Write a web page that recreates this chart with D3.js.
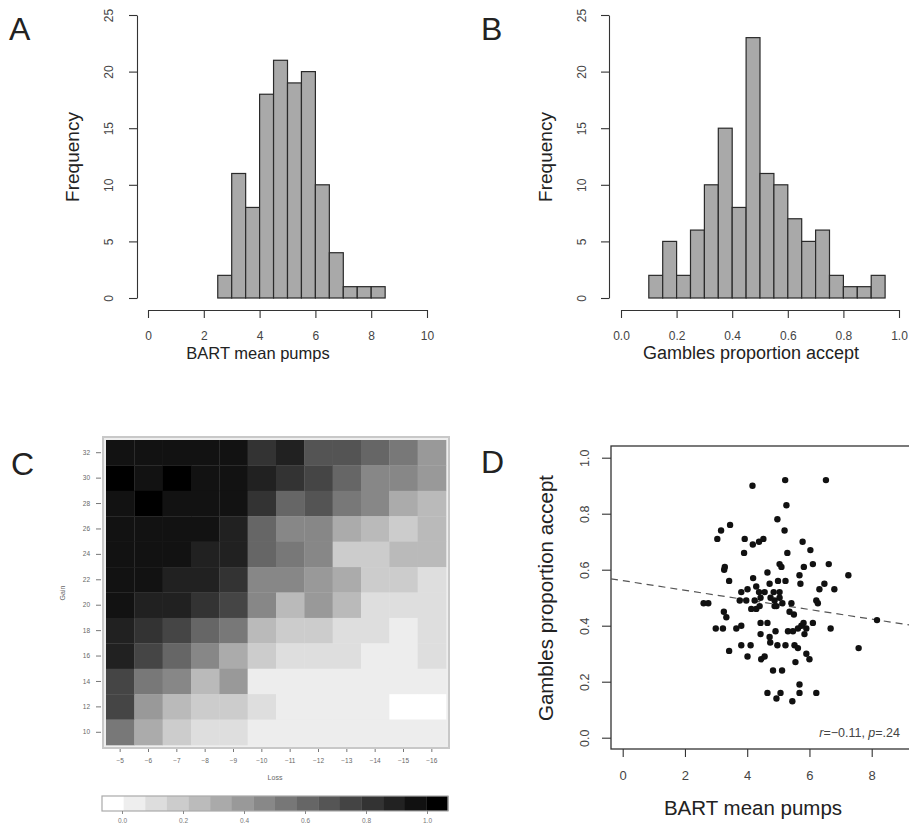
<!DOCTYPE html>
<html><head><meta charset="utf-8">
<script src="https://cdn.jsdelivr.net/npm/d3@7"></script>
<style>
body{margin:0;background:#fff}
svg{display:block;font-family:"Liberation Sans",Arial,Helvetica,sans-serif}
</style>
</head><body>
<svg id="chart" width="909" height="825"></svg>
<script>
// ---------------- DATA ----------------
const bartBinStarts = [2.5,3.0,3.5,4.0,4.5,5.0,5.5,6.0,6.5,7.0,7.5,8.0];
const bartCounts    = [2,11,8,18,21,19,20,10,4,1,1,1];
const bartBinWidth  = 0.5;
const bartTicks     = [0,2,4,6,8,10];

const gambleBinStarts = [0.10,0.15,0.20,0.25,0.30,0.35,0.40,0.45,0.50,0.55,0.60,0.65,0.70,0.75,0.80,0.85,0.90];
const gambleCounts    = [2,5,2,6,10,15,8,23,11,10,7,5,6,2,1,1,2];
const gambleBinWidth  = 0.05;
const gambleTicks     = [0,0.2,0.4,0.6,0.8,1.0];

const freqTicks = [0,5,10,15,20,25];

const gainLevels = [32,30,28,26,24,22,20,18,16,14,12,10];
const lossLevels = [-5,-6,-7,-8,-9,-10,-11,-12,-13,-14,-15,-16];
// proportion of gambles accepted, rows = gain (top 32 -> bottom 10), cols = loss (-5 -> -16)
const acceptGrid = [
  [0.93,0.93,0.93,0.93,0.93,0.80,0.87,0.67,0.67,0.60,0.53,0.40],
  [1.00,0.93,1.00,0.93,0.93,0.87,0.80,0.73,0.60,0.47,0.47,0.40],
  [0.93,1.00,0.93,0.93,0.93,0.80,0.60,0.67,0.53,0.47,0.33,0.27],
  [0.93,0.93,0.93,0.93,0.87,0.60,0.47,0.47,0.33,0.27,0.20,0.27],
  [0.93,0.93,0.93,0.87,0.87,0.60,0.53,0.47,0.20,0.20,0.27,0.27],
  [0.93,0.93,0.87,0.87,0.80,0.47,0.47,0.40,0.33,0.20,0.20,0.13],
  [0.93,0.87,0.87,0.80,0.73,0.47,0.27,0.40,0.27,0.13,0.13,0.13],
  [0.87,0.80,0.73,0.60,0.53,0.27,0.20,0.20,0.13,0.13,0.07,0.13],
  [0.87,0.73,0.60,0.47,0.33,0.20,0.13,0.13,0.13,0.07,0.07,0.13],
  [0.73,0.53,0.47,0.27,0.40,0.07,0.07,0.07,0.07,0.07,0.07,0.07],
  [0.73,0.40,0.27,0.20,0.20,0.13,0.07,0.07,0.07,0.07,0.00,0.00],
  [0.53,0.33,0.20,0.13,0.13,0.07,0.07,0.07,0.07,0.07,0.07,0.07]
];
const colorbarLevels = [0,0.067,0.133,0.2,0.267,0.333,0.4,0.467,0.533,0.6,0.667,0.733,0.8,0.867,0.933,1.0];
const colorbarTicks  = [0,0.2,0.4,0.6,0.8,1.0];

const bartPumps = [4.17,5.22,6.53,5.26,4.97,5.20,3.45,3.16,3.04,3.92,4.18,4.38,4.52,5.78,6.03,
  3.90,5.29,3.28,3.26,5.04,5.10,5.82,6.11,6.62,3.42,4.19,4.65,4.72,4.99,5.23,5.68,5.71,6.48,6.32,6.80,7.25,
  3.81,4.01,4.29,4.38,4.56,4.85,5.04,
  2.60,2.75,3.76,3.97,4.24,4.43,4.75,4.88,5.04,5.13,
  4.13,4.29,4.40,4.88,4.94,5.42,5.36,5.50,6.22,6.27,
  3.25,3.33,4.43,4.65,
  2.99,3.22,3.65,3.81,4.43,4.91,5.31,5.47,5.63,5.74,5.81,5.90,5.84,6.11,6.68,
  4.72,4.74,4.97,5.23,5.52,5.63,3.81,4.11,3.42,
  5.90,6.00,4.01,4.45,4.56,5.55,
  4.83,5.12,4.65,4.94,5.07,5.45,5.68,5.68,6.22,
  8.17,7.58];
const gamblesAccept = [0.90,0.92,0.92,0.83,0.78,0.74,0.76,0.74,0.71,0.71,0.69,0.70,0.71,0.70,0.67,
  0.66,0.66,0.61,0.60,0.62,0.61,0.61,0.62,0.62,0.56,0.57,0.59,0.55,0.56,0.56,0.58,0.55,0.55,0.53,0.53,0.58,
  0.52,0.53,0.54,0.52,0.52,0.52,0.52,
  0.48,0.48,0.49,0.49,0.49,0.50,0.50,0.49,0.50,0.48,
  0.46,0.46,0.47,0.47,0.47,0.48,0.45,0.44,0.49,0.48,
  0.45,0.43,0.41,0.41,
  0.39,0.39,0.39,0.40,0.37,0.38,0.38,0.38,0.39,0.40,0.41,0.39,0.37,0.41,0.39,
  0.36,0.34,0.33,0.33,0.33,0.32,0.33,0.33,0.31,
  0.30,0.28,0.29,0.28,0.29,0.27,
  0.24,0.24,0.16,0.14,0.16,0.13,0.19,0.16,0.16,
  0.42,0.32];
const scatterXTicks = [0,2,4,6,8];
const scatterYTicks = [0,0.2,0.4,0.6,0.8,1.0];
const fitIntercept = 0.561;
const fitSlope = -0.0172;
const statR = "\u22120.11";
const statP = ".24";

// ---------------- DRAWING ----------------
const svg = d3.select("#chart");
const ink = "#333";
svg.append("rect").attr("width",909).attr("height",825).attr("fill","#fff");

function styleAxis(g, fs) {
  g.selectAll("path.domain").attr("stroke", ink).attr("stroke-width", 1.1);
  g.selectAll(".tick line").attr("stroke", ink).attr("stroke-width", 1.1);
  g.selectAll(".tick text").attr("fill", "#444").style("font-size", fs + "px")
    .style("font-family", '"Liberation Sans",Arial,sans-serif');
}
function rotateYLabels(g, offset) {
  g.selectAll(".tick text").attr("transform", "rotate(-90)")
    .attr("x", 0).attr("y", -offset).attr("dy", "0.35em").attr("text-anchor", "middle");
}
function rotLabel(x, y, txt, fs) {
  svg.append("text").attr("transform", `translate(${x},${y}) rotate(-90)`)
    .attr("text-anchor", "middle").attr("dy", "0.35em")
    .style("font-size", fs + "px").attr("fill", "#222").text(txt);
}
function label(x, y, txt, fs, anchor) {
  return svg.append("text").attr("x", x).attr("y", y).attr("text-anchor", anchor || "middle")
    .style("font-size", fs + "px").attr("fill", "#222").text(txt);
}
function histogram(xs, ys, starts, counts, w) {
  svg.append("g").selectAll("rect").data(starts).join("rect")
    .attr("x", (d) => xs(d)).attr("width", (d) => xs(d + w) - xs(d))
    .attr("y", (d, i) => ys(counts[i])).attr("height", (d, i) => ys(0) - ys(counts[i]))
    .attr("fill", "#a9a9a9").attr("stroke", "#2a2a2a").attr("stroke-width", 1.2);
}

// Panel A
{
  const x = d3.scaleLinear().domain([0, 10]).range([148, 427]);
  const y = d3.scaleLinear().domain([0, 25]).range([298, 15]);
  histogram(x, y, bartBinStarts, bartCounts, bartBinWidth);
  const gx = svg.append("g").attr("transform", "translate(0,310)")
    .call(d3.axisBottom(x).tickValues(bartTicks).tickSize(8).tickSizeOuter(0).tickPadding(13));
  styleAxis(gx, 12);
  const gy = svg.append("g").attr("transform", "translate(137,0)")
    .call(d3.axisLeft(y).tickValues(freqTicks).tickSize(8).tickSizeOuter(0));
  styleAxis(gy, 12); rotateYLabels(gy, 28);
  rotLabel(72, 157, "Frequency", 19);
  label(258, 359, "BART mean pumps", 16.5);
  label(9, 40, "A", 32, "start");
}
// Panel B
{
  const x = d3.scaleLinear().domain([0, 1]).range([621, 899]);
  const y = d3.scaleLinear().domain([0, 25]).range([298, 15]);
  histogram(x, y, gambleBinStarts, gambleCounts, gambleBinWidth);
  const gx = svg.append("g").attr("transform", "translate(0,310)")
    .call(d3.axisBottom(x).tickValues(gambleTicks).tickFormat(d3.format(".1f")).tickSize(8).tickSizeOuter(0).tickPadding(13));
  styleAxis(gx, 12);
  const gy = svg.append("g").attr("transform", "translate(609,0)")
    .call(d3.axisLeft(y).tickValues(freqTicks).tickSize(8).tickSizeOuter(0));
  styleAxis(gy, 12); rotateYLabels(gy, 27);
  rotLabel(545, 157, "Frequency", 19);
  label(751, 359, "Gambles proportion accept", 18);
  label(481, 40, "B", 32, "start");
}
// Panel C
{
  const x = d3.scaleBand().domain(lossLevels).range([106, 446]);
  const y = d3.scaleBand().domain(gainLevels).range([440, 745]);
  const col = d3.scaleLinear().domain([0, 1]).range(["#ffffff", "#000000"]);
  const cells = [];
  acceptGrid.forEach((row, i) => row.forEach((v, j) => cells.push({ g: gainLevels[i], l: lossLevels[j], v })));
  svg.append("rect").attr("x", 103).attr("y", 437).attr("width", 346).attr("height", 311)
    .attr("fill", "#eee").attr("stroke", "#c8c8c8").attr("stroke-width", 2);
  svg.append("g").selectAll("rect").data(cells).join("rect")
    .attr("x", (d) => x(d.l)).attr("y", (d) => y(d.g))
    .attr("width", x.bandwidth() + 0.3).attr("height", y.bandwidth() + 0.3)
    .attr("fill", (d) => col(d.v));
  const gy = svg.append("g").attr("transform", "translate(101,0)")
    .call(d3.axisLeft(y).tickSize(5).tickSizeOuter(0).tickPadding(6));
  gy.select("path.domain").remove();
  gy.selectAll(".tick line").attr("stroke", "#777");
  gy.selectAll(".tick text").attr("fill", "#666").style("font-size", "6.5px");
  const gx = svg.append("g").attr("transform", "translate(0,749)")
    .call(d3.axisBottom(x).tickSize(3).tickSizeOuter(0).tickPadding(6)
      .tickFormat((d) => String(d).replace("-", "\u2212")));
  gx.select("path.domain").remove();
  gx.selectAll(".tick line").attr("stroke", "#777");
  gx.selectAll(".tick text").attr("fill", "#666").style("font-size", "6.5px");
  svg.append("text").attr("transform", "translate(63,593) rotate(-90)").attr("text-anchor", "middle")
    .attr("dy", "0.35em").style("font-size", "7px").attr("fill", "#666").text("Gain");
  svg.append("text").attr("x", 275).attr("y", 780).attr("text-anchor", "middle")
    .style("font-size", "7px").attr("fill", "#666").text("Loss");
  // colour bar
  const cb = d3.scaleBand().domain(d3.range(colorbarLevels.length)).range([102, 448]);
  svg.append("g").selectAll("rect").data(colorbarLevels).join("rect")
    .attr("x", (d, i) => cb(i)).attr("width", cb.bandwidth() + 0.3)
    .attr("y", 796).attr("height", 15).attr("fill", (d) => col(d));
  svg.append("rect").attr("x", 102).attr("y", 796).attr("width", 346).attr("height", 15)
    .attr("fill", "none").attr("stroke", "#aaa").attr("stroke-width", 1.2);
  const ct = d3.scaleLinear().domain([0, 1]).range([122, 427]);
  const gc = svg.append("g").attr("transform", "translate(0,811)")
    .call(d3.axisBottom(ct).tickValues(colorbarTicks).tickFormat(d3.format(".1f")).tickSize(3).tickSizeOuter(0).tickPadding(4));
  gc.select("path.domain").remove();
  gc.selectAll(".tick line").attr("stroke", "#888");
  gc.selectAll(".tick text").attr("fill", "#777").style("font-size", "6.5px");
  label(11, 475, "C", 32, "start");
}
// Panel D
{
  const x = d3.scaleLinear().domain([0, 8]).range([622.7, 871.7]);
  const y = d3.scaleLinear().domain([0, 1]).range([737.7, 457.7]);
  svg.append("rect").attr("x", 611).attr("y", 446).attr("width", 340).attr("height", 303)
    .attr("fill", "none").attr("stroke", ink).attr("stroke-width", 1.3);
  const xl = x.invert(611), xr = x.invert(909);
  svg.append("line").attr("x1", x(xl)).attr("x2", x(xr))
    .attr("y1", y(fitIntercept + fitSlope * xl)).attr("y2", y(fitIntercept + fitSlope * xr))
    .attr("stroke", "#555").attr("stroke-width", 1.2).attr("stroke-dasharray", "7,5");
  svg.append("g").selectAll("circle").data(bartPumps).join("circle")
    .attr("cx", (d) => x(d)).attr("cy", (d, i) => y(gamblesAccept[i]))
    .attr("r", 3.2).attr("fill", "#111");
  const gx = svg.append("g").attr("transform", "translate(0,749)")
    .call(d3.axisBottom(x).tickValues(scatterXTicks).tickSize(8).tickSizeOuter(0).tickPadding(14));
  gx.select("path.domain").remove();
  styleAxis(gx, 13);
  const gy = svg.append("g").attr("transform", "translate(611,0)")
    .call(d3.axisLeft(y).tickValues(scatterYTicks).tickFormat(d3.format(".1f")).tickSize(9).tickSizeOuter(0));
  gy.select("path.domain").remove();
  styleAxis(gy, 12.5); rotateYLabels(gy, 26);
  rotLabel(546, 598, "Gambles proportion accept", 20.5);
  label(753, 815, "BART mean pumps", 20.5);
  const st = label(900, 737, "", 12.5, "end").attr("fill", "#444");
  st.append("tspan").style("font-style", "italic").text("r");
  st.append("tspan").text("=" + statR + ", ");
  st.append("tspan").style("font-style", "italic").text("p");
  st.append("tspan").text("=" + statP);
  label(481, 473, "D", 32, "start");
}
</script>
</body></html>
